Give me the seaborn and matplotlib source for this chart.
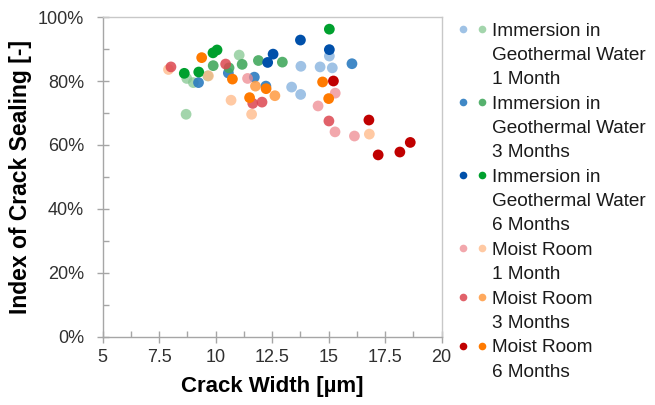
import matplotlib
matplotlib.use("Agg")
import matplotlib.pyplot as plt
from matplotlib.lines import Line2D
from matplotlib.legend_handler import HandlerTuple
from matplotlib.ticker import MultipleLocator, PercentFormatter
import seaborn as sns
import pandas as pd

sns.set_theme(style="white")
plt.rcParams['font.family'] = ['Liberation Sans', 'DejaVu Sans']

# ---- data (crack width [um], index of crack sealing [%]) ----
igw1_blue_x = [13.77, 14.62, 15.16, 13.36, 13.76, 15.03]
igw1_blue_y = [84.6, 84.4, 84.1, 78.1, 75.8, 87.8]
igw3_blue_x = [16.03, 9.24, 10.56, 11.71, 12.22]
igw3_blue_y = [85.4, 79.5, 82.5, 81.2, 78.4]
igw6_blue_x = [13.75, 15.03, 12.54, 12.30]
igw6_blue_y = [92.8, 89.8, 88.4, 85.8]

igw1_green_x = [8.69, 8.72, 9.01, 9.65, 11.04]
igw1_green_y = [69.6, 80.8, 79.5, 81.6, 88.1]
igw3_green_x = [9.89, 11.17, 11.89, 10.59, 12.95]
igw3_green_y = [84.8, 85.2, 86.4, 84.1, 85.9]
igw6_green_x = [8.61, 9.25, 9.88, 10.06, 15.03]
igw6_green_y = [82.4, 82.8, 88.8, 89.7, 96.2]

mr1_red_x = [11.41, 14.53, 15.29, 15.28, 16.14]
mr1_red_y = [80.8, 72.2, 76.2, 64.1, 62.8]
mr3_red_x = [8.02, 10.44, 11.64, 12.05, 15.01]
mr3_red_y = [84.4, 85.3, 73.0, 73.4, 67.5]
mr6_red_x = [15.21, 16.78, 17.19, 18.15, 18.61]
mr6_red_y = [80.0, 67.8, 56.9, 57.8, 60.8]

mr1_orange_x = [7.91, 9.68, 10.68, 11.59, 16.80]
mr1_orange_y = [83.6, 81.6, 74.0, 69.6, 63.4]
mr3_orange_x = [11.76, 12.62]
mr3_orange_y = [78.4, 75.4]
mr6_orange_x = [9.38, 10.74, 11.50, 12.23, 14.73, 15.00]
mr6_orange_y = [87.3, 80.6, 74.8, 77.6, 79.7, 74.5]

x_tick_labels = ["5", "7.5", "10", "12.5", "15", "17.5", "20"]
legend_labels = [
    "Immersion in\nGeothermal Water\n1 Month",
    "Immersion in\nGeothermal Water\n3 Months",
    "Immersion in\nGeothermal Water\n6 Months",
    "Moist Room\n1 Month",
    "Moist Room\n3 Months",
    "Moist Room\n6 Months",
]

series = [
    ("igw1_blue", igw1_blue_x, igw1_blue_y, "#7FAEDD", 0.75),
    ("igw1_green", igw1_green_x, igw1_green_y, "#85C891", 0.75),
    ("igw3_blue", igw3_blue_x, igw3_blue_y, "#2B7BC0", 0.9),
    ("igw3_green", igw3_green_x, igw3_green_y, "#43A95E", 0.9),
    ("igw6_blue", igw6_blue_x, igw6_blue_y, "#0050AA", 1.0),
    ("igw6_green", igw6_green_x, igw6_green_y, "#00A02E", 1.0),
    ("mr1_red", mr1_red_x, mr1_red_y, "#EE8A90", 0.75),
    ("mr1_orange", mr1_orange_x, mr1_orange_y, "#FFB784", 0.75),
    ("mr3_red", mr3_red_x, mr3_red_y, "#DC4650", 0.85),
    ("mr3_orange", mr3_orange_x, mr3_orange_y, "#FF9A40", 0.85),
    ("mr6_red", mr6_red_x, mr6_red_y, "#C00000", 1.0),
    ("mr6_orange", mr6_orange_x, mr6_orange_y, "#FF7A00", 1.0),
]

fig = plt.figure(figsize=(6.55, 4.05), dpi=100)
ax = fig.add_axes([0.1568, 0.168, 0.5175, 0.790])

for name, xs, ys, col, a in series:
    df = pd.DataFrame({"w": xs, "s": ys})
    sns.scatterplot(data=df, x="w", y="s", ax=ax, color=col, alpha=a,
                    s=60, edgecolor="none", linewidth=0, legend=False, zorder=3)

ax.set_xlim(5, 20)
ax.set_ylim(0, 100)
ax.xaxis.set_minor_locator(MultipleLocator(1.25))
ax.yaxis.set_major_locator(MultipleLocator(20))
ax.yaxis.set_minor_locator(MultipleLocator(10))
ax.yaxis.set_major_formatter(PercentFormatter(decimals=0))
ax.set_xticks([5, 7.5, 10, 12.5, 15, 17.5, 20])
ax.set_xticklabels(x_tick_labels)

for s in ax.spines.values():
    s.set_color("#C8C8C8")
    s.set_linewidth(1.0)
ax.spines["left"].set_color("#A6A6A6")
ax.spines["bottom"].set_color("#A6A6A6")

ax.tick_params(axis="both", which="major", direction="inout", length=9, width=1,
               color="#A6A6A6", labelsize=13, labelcolor="#303030",
               bottom=True, left=True)
ax.tick_params(axis="y", which="major", pad=9)
ax.tick_params(axis="x", which="major", pad=4)
ax.tick_params(axis="both", which="minor", direction="in", length=4, width=1,
               color="#A6A6A6", bottom=True, left=True)

ax.set_xlabel("Crack Width [µm]", fontsize=16, fontweight="bold", color="black")
ax.set_ylabel("Index of Crack Sealing [-]", fontsize=16.5, fontweight="bold", color="black")
ax.xaxis.set_label_coords(0.5, (337 - 387) / 320)
ax.xaxis.label.set_va("center")
ax.yaxis.set_label_coords((20 - 102.7) / 339, 0.5)
ax.yaxis.label.set_va("center")

# legend: one row per text line; first line of each entry carries the paired markers
pairs = [("#7FAEDD", "#85C891", 0.75), ("#2B7BC0", "#43A95E", 0.9), ("#0050AA", "#00A02E", 1.0),
         ("#EE8A90", "#FFB784", 0.75), ("#DC4650", "#FF9A40", 0.85), ("#C00000", "#FF7A00", 1.0)]
handles, labels = [], []
blank = Line2D([], [], linestyle="none", marker=None)
for (c1, c2, a), lab in zip(pairs, legend_labels):
    lines = lab.split("\n")
    h1 = Line2D([], [], linestyle="none", marker="o", markersize=5.5, color=c1, alpha=a, markeredgewidth=0)
    h2 = Line2D([], [], linestyle="none", marker="o", markersize=5.5, color=c2, alpha=a, markeredgewidth=0)
    handles.append((h1, h2))
    labels.append(lines[0])
    for ln in lines[1:]:
        handles.append(blank)
        labels.append(ln)

leg = fig.legend(handles, labels, loc="upper left", bbox_to_anchor=(0.692, 0.945),
                 frameon=False, fontsize=13.7, borderpad=0, borderaxespad=0,
                 labelspacing=0.37, handlelength=2.2 * 12.5 / 13.7, handletextpad=0.05,
                 handler_map={tuple: HandlerTuple(ndivide=None, pad=0)})
for t in leg.get_texts():
    t.set_color("#1a1a1a")

fig.savefig("out.png", dpi=100)
